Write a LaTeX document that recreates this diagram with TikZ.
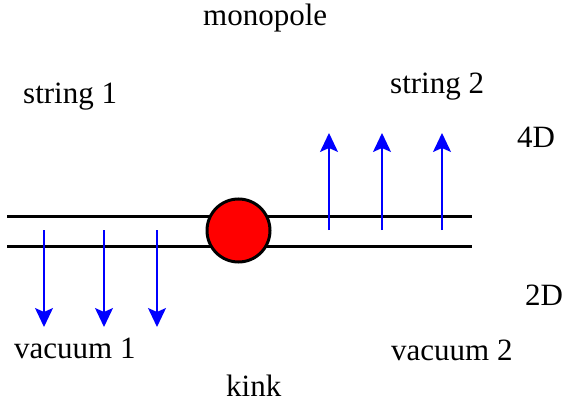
\documentclass[tikz,border=0pt]{standalone}
\usepackage{fontspec}
\setmainfont{Liberation Serif}
\usetikzlibrary{arrows.meta}
\tikzset{
  lbl/.style={anchor=base west, inner sep=0pt, font=\fontsize{31}{37}\selectfont},
  wall/.style={line width=3pt},
  flux/.style={blue, line width=1.5pt, -{Stealth[length=19pt,width=18pt,inset=4pt]}},
  ball/.style={circle, draw, line width=3pt, fill=red, minimum size=63pt, inner sep=0pt}
}
\begin{document}
\begin{tikzpicture}[x=1pt,y=-1pt]
        \useasboundingbox (0,0) rectangle (565,404);
        % the two walls
        \coordinate (tl) at (7,216);  \coordinate (tr) at (472,216);
        \coordinate (bl) at (7,246);  \coordinate (br) at (472,246);
        \draw[wall] (tl) -- (tr);
        \draw[wall] (bl) -- (br);
        \node[ball] (mono) at (238.5,230.5) {};
        % flux arrows
        \foreach \x [count=\i] in {44,104,157} {
            \coordinate (ls\i) at (\x,230);
            \coordinate (le\i) at (\x,327);
            \draw[flux] (ls\i) -- (le\i);
        }
        \foreach \x [count=\i] in {329,382,442} {
            \coordinate (rs\i) at (\x,230);
            \coordinate (re\i) at (\x,133);
            \draw[flux] (rs\i) -- (re\i);
        }
        % labels
        \node[lbl] (monolbl) at (203,26) {monopole};
        \node[lbl] (str1) at (23,103) {string 1};
        \node[lbl] (str2) at (390,93) {string 2};
        \node[lbl] (fourd) at (517,147) {4D};
        \node[lbl] (twod) at (525,305) {2D};
        \node[lbl] (vac1) at (14,358) {vacuum 1};
        \node[lbl] (vac2) at (391,360) {vacuum 2};
        \node[lbl] (kink) at (226,396) {kink};
    \end{tikzpicture}
\end{document}
